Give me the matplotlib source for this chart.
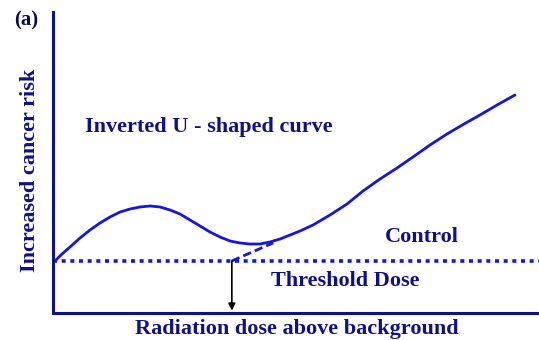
import matplotlib
matplotlib.use("Agg")
import matplotlib.pyplot as plt

# dose-response curve (arbitrary units)
dose = [0.41, 1.85, 3.50, 5.56, 7.61, 9.67, 11.73, 13.79, 15.84, 17.90, 19.96,
        22.02, 24.07, 26.13, 28.19, 30.25, 32.30, 34.36, 36.42, 38.48, 40.53,
        42.59, 44.65, 46.71, 48.77, 50.82, 53.50, 57.00, 60.49, 63.79, 67.28,
        70.78, 74.07, 77.57, 81.07, 84.57, 87.86, 91.36, 95.06]
risk = [17.28, 19.60, 21.93, 24.92, 27.57, 29.90, 31.89, 33.55, 34.55, 35.22, 35.55,
        35.22, 34.22, 32.89, 30.90, 28.90, 26.91, 25.25, 23.92, 23.26, 22.92,
        22.92, 23.59, 24.58, 25.91, 27.24, 29.24, 32.56, 36.21, 40.53, 44.52,
        48.17, 51.83, 55.81, 59.47, 62.79, 65.78, 69.10, 72.43]

control_level = 17.3
threshold_dose = 36.8
dashed_x = [36.8, 45.3]
dashed_y = [17.3, 23.3]

navy = "#10108a"
blue = "#1414e6"

plt.rcParams['font.family'] = ['Liberation Serif', 'DejaVu Serif']

fig = plt.figure(figsize=(5.39, 3.40), dpi=100)
ax = fig.add_axes([53 / 539, 27 / 340, 486 / 539, 301 / 340])
ax.set_xlim(0, 100)
ax.set_ylim(0, 100)

ax.plot(dose, risk, color=blue, lw=2.0, solid_capstyle='round', solid_joinstyle='round')
ax.axhline(control_level, color=blue, lw=2.6, linestyle=(0, (1.1, 1.3)))
ax.plot(dashed_x, dashed_y, color=blue, lw=2.0, linestyle=(0, (3, 1.5)))
ax.annotate('', xy=(threshold_dose, 0.8), xytext=(threshold_dose, control_level),
            arrowprops=dict(arrowstyle='-|>', color='black', lw=1.2,
                            mutation_scale=10, shrinkA=0, shrinkB=0))

for s in ['top', 'right']:
    ax.spines[s].set_visible(False)
for s in ['left', 'bottom']:
    ax.spines[s].set_color(navy)
    ax.spines[s].set_linewidth(2.2)
ax.set_xticks([])
ax.set_yticks([])

txt = dict(color=navy, fontsize=16, fontweight='bold')
ax.text(32.1, 61.8, 'Inverted U - shaped curve', ha='center', va='center', **txt)
ax.text(75.9, 25.2, 'Control', ha='center', va='center', **txt)
ax.text(60.1, 10.6, 'Threshold Dose', ha='center', va='center', **txt)

fig.text(297 / 539, 1 - 329 / 340, 'Radiation dose above background',
         ha='center', va='center', **txt)
fig.text(30 / 539, 0.5, 'Increased cancer risk', rotation=90,
         ha='center', va='center', **txt)
fig.text(26 / 539, 1 - 20 / 340, '(a)', ha='center', va='center',
         color='#0a0a50', fontsize=15, fontweight='bold')

fig.savefig('out.png', dpi=100)
